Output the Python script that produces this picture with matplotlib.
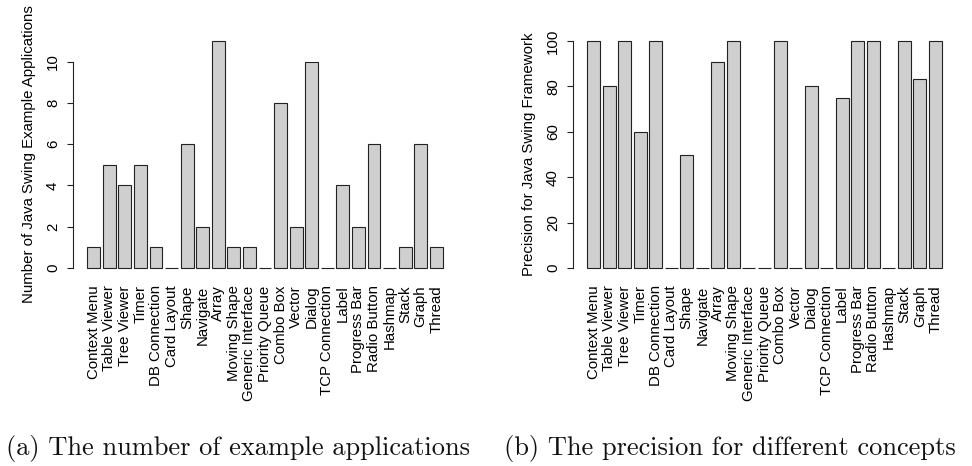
import numpy as np
import matplotlib
matplotlib.use("Agg")
import matplotlib.pyplot as plt

concepts = ['Context Menu', 'Table Viewer', 'Tree Viewer', 'Timer', 'DB Connection',
            'Card Layout', 'Shape', 'Navigate', 'Array', 'Moving Shape',
            'Generic Interface', 'Priority Queue', 'Combo Box', 'Vector', 'Dialog',
            'TCP Connection', 'Label', 'Progress Bar', 'Radio Button', 'Hashmap',
            'Stack', 'Graph', 'Thread']
num_apps = [1, 5, 4, 5, 1, 0, 6, 2, 11, 1, 1, 0, 8, 2, 10, 0, 4, 2, 6, 0, 1, 6, 1]
precision = [100, 80, 100, 60, 100, 0, 50, 0, 90.9, 100, 0, 0, 100, 0, 80, 0,
             75, 100, 100, 0, 100, 83.3, 100]
left_ticks = [0, 2, 4, 6, 8, 10]
right_ticks = [0, 20, 40, 60, 80, 100]

plt.rcParams['font.family'] = ['Liberation Sans', 'DejaVu Sans']

fig = plt.figure(figsize=(9.72, 4.66), dpi=100)
ax = fig.add_axes([73 / 972, 1 - 277 / 466, 384 / 972, 245 / 466])
bx = fig.add_axes([573 / 972, 1 - 277 / 466, 383 / 972, 245 / 466])

# R style barplot positions: width 1, space 0.2
xpos = np.arange(len(concepts)) * 1.2 + 0.7
span = xpos[-1] + 0.5 - (xpos[0] - 0.5)


def rbar(axis, values, ticks, ylabel):
    axis.bar(xpos, values, width=1.0, color='#cfcfcf', edgecolor='#222222', linewidth=0.8)
    lo = xpos[0] - 0.5 - 0.04 * span
    hi = xpos[-1] + 0.5 + 0.04 * span
    axis.set_xlim(lo, hi)
    top = max(values)
    axis.set_ylim(-0.04 * top, 1.04 * top)
    for s in ['top', 'right', 'bottom']:
        axis.spines[s].set_visible(False)
    axis.spines['left'].set_bounds(ticks[0], ticks[-1])
    axis.spines['left'].set_color('#222222')
    axis.spines['left'].set_linewidth(0.8)
    axis.set_yticks(ticks)
    axis.tick_params(axis='y', labelrotation=90, length=4.3, width=0.8, pad=5,
                     labelsize=10.8, color='#222222')
    for lab in axis.get_yticklabels():
        lab.set_verticalalignment('center')
    axis.set_xticks(xpos)
    axis.set_xticklabels(concepts, rotation=90, fontsize=10.8)
    axis.tick_params(axis='x', length=0, pad=6)
    axis.set_ylabel(ylabel, fontsize=10.8)
    axis.yaxis.set_label_coords(-0.096, 0.5)


rbar(ax, num_apps, left_ticks, 'Number of Java Swing Example Applications')
rbar(bx, precision, right_ticks, 'Precision for Java Swing Framework')

fig.text(238 / 972, 1 - 455 / 466, '(a) The number of example applications',
         family='cmr10', fontsize=19, ha='center', va='baseline', color='#111111')
fig.text(730 / 972, 1 - 455 / 466, '(b) The precision for different concepts',
         family='cmr10', fontsize=19, ha='center', va='baseline', color='#111111')

fig.savefig('out.png', dpi=100)
